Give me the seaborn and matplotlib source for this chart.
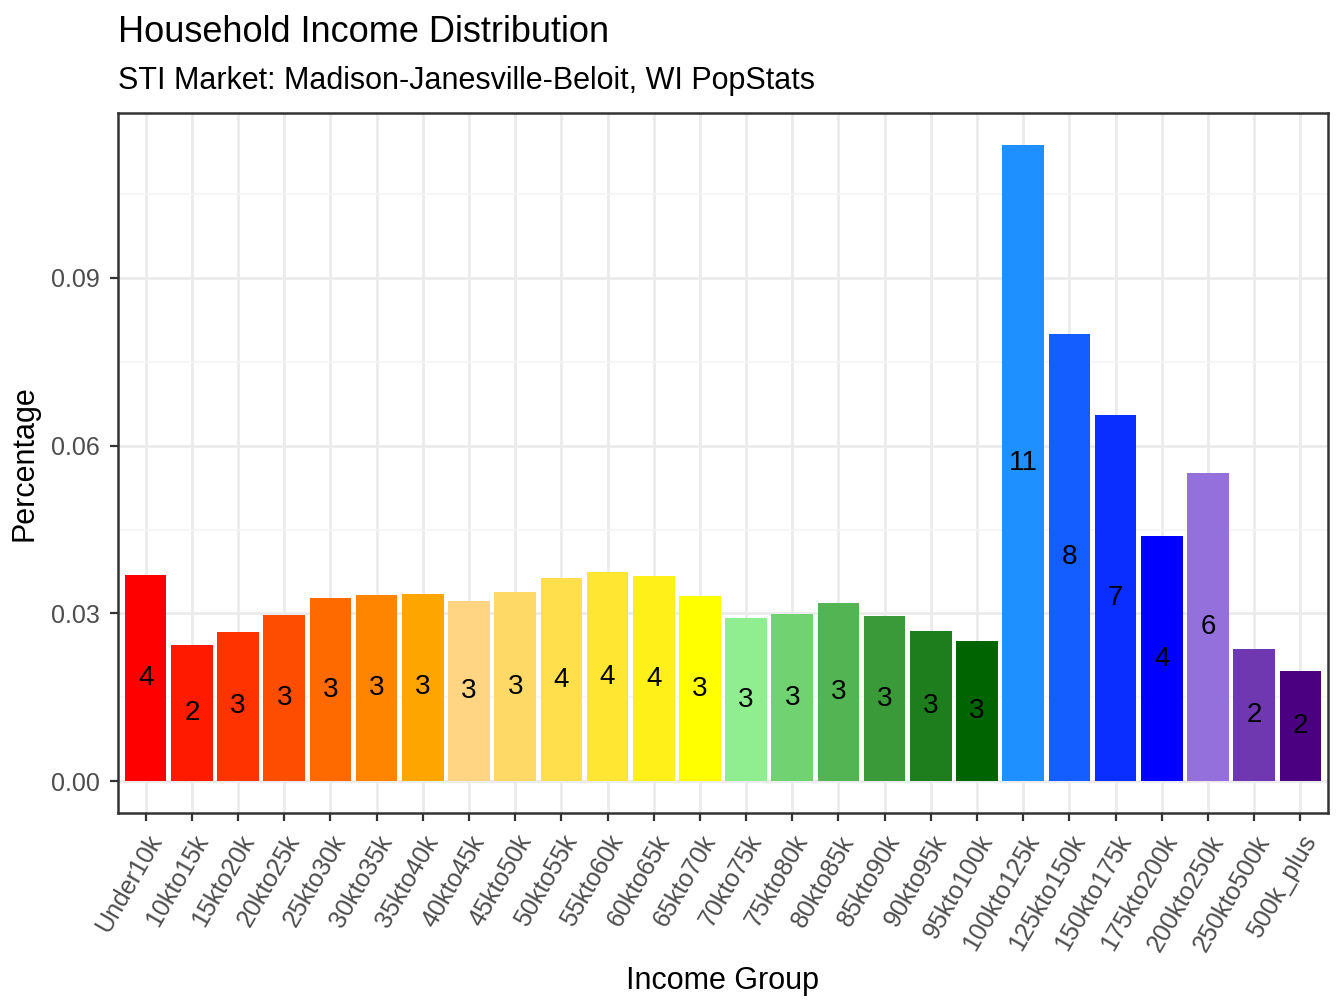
import matplotlib
matplotlib.use("Agg")
import matplotlib.pyplot as plt
import seaborn as sns
import pandas as pd
import numpy as np

groups = ["Under10k", "10kto15k", "15kto20k", "20kto25k", "25kto30k", "30kto35k",
          "35kto40k", "40kto45k", "45kto50k", "50kto55k", "55kto60k", "60kto65k",
          "65kto70k", "70kto75k", "75kto80k", "80kto85k", "85kto90k", "90kto95k",
          "95kto100k", "100kto125k", "125kto150k", "150kto175k", "175kto200k",
          "200kto250k", "250kto500k", "500k_plus"]
pct = [0.0369, 0.0243, 0.0267, 0.0297, 0.0327, 0.0333, 0.0335, 0.0322, 0.0338,
       0.0363, 0.0374, 0.0367, 0.0331, 0.0292, 0.0299, 0.0318, 0.0295, 0.0268,
       0.0250, 0.1138, 0.0800, 0.0655, 0.0438, 0.0551, 0.0236, 0.0197]
labels = ["4", "2", "3", "3", "3", "3", "3", "3", "3", "4", "4", "4", "3",
          "3", "3", "3", "3", "3", "3", "11", "8", "7", "4", "6", "2", "2"]
colors = ["#FF0000", "#FF1A00", "#FF3300", "#FF4D00", "#FF6A00", "#FF8400",
          "#FFA500", "#FFD584", "#FFD966", "#FFE04C", "#FFE633", "#FFF01A",
          "#FFFF00", "#90EE90", "#70D270", "#52B452", "#3A9A3A", "#1E7E1E",
          "#006400", "#1E90FF", "#145EFF", "#0A2EFF", "#0000FF", "#9370DB",
          "#6F37B0", "#4B0082"]

df = pd.DataFrame({"group": groups, "pct": pct})

plt.rcParams["font.family"] = "Liberation Sans"
fig = plt.figure(figsize=(6.72, 5.04), dpi=200)
ax = fig.add_axes([118 / 1344, 1 - 813 / 1008, 1210 / 1344, 700 / 1008])

sns.barplot(data=df, x="group", y="pct", hue="group", palette=colors,
            legend=False, width=0.9, saturation=1, ax=ax)

for i, (v, lab) in enumerate(zip(pct, labels)):
    ax.text(i, v / 2, lab, ha="center", va="center", fontsize=10, color="black")

ax.set_ylim(-0.0057, 0.1195)
ax.set_xlim(-0.6, len(groups) - 0.4)
ax.set_yticks([0, 0.03, 0.06, 0.09])
ax.set_yticklabels(["0.00", "0.03", "0.06", "0.09"])
ax.set_yticks([0.015, 0.045, 0.075, 0.105], minor=True)
ax.grid(True, which="major", color="#EBEBEB", linewidth=1.0)
ax.grid(True, which="minor", axis="y", color="#F5F5F5", linewidth=0.6)
ax.set_axisbelow(True)
ax.tick_params(which="minor", length=0)
ax.tick_params(which="major", length=3, color="#333333", labelsize=9, labelcolor="#4D4D4D")
plt.setp(ax.get_xticklabels(), rotation=60, ha="right", rotation_mode="anchor")
for s in ax.spines.values():
    s.set_color("#333333")
    s.set_linewidth(0.9)

ax.set_xlabel("Income Group", fontsize=11)
ax.set_ylabel("Percentage", fontsize=11)
fig.text(118 / 1344, 1 - 32 / 1008, "Household Income Distribution", fontsize=13, va="center")
fig.text(118 / 1344, 1 - 81 / 1008, "STI Market: Madison-Janesville-Beloit, WI PopStats",
         fontsize=11, va="center")

fig.savefig("out.png", dpi=200)
